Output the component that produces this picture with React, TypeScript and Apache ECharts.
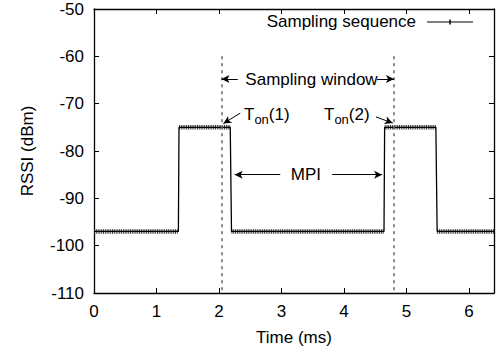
import React, { useEffect, useRef } from "react";
import * as echarts from "echarts";

// Step breakpoints of the sampled RSSI sequence (time in ms, RSSI in dBm)
const stepTimes = [0, 1.35, 1.36, 2.18, 2.2, 4.64, 4.65, 5.47, 5.49, 6.4];
const stepLevels = [-97, -97, -75, -75, -97, -97, -75, -75, -97, -97];
// Sampling window boundaries (ms) and their top (dBm)
const windowEdges = [2.04, 4.8];
const windowTop = -60;
const seriesName = "Sampling sequence";
const xName = "Time (ms)";
const yName = "RSSI (dBm)";

const FONT = "'Liberation Sans', Arial, Helvetica, sans-serif";

export default function App() {
  const ref = useRef<HTMLDivElement>(null);
  useEffect(() => {
    if (!ref.current) return;
    const chart = echarts.init(ref.current, undefined, { renderer: "svg" });
    const stepData = stepTimes.map((t, i) => [t, stepLevels[i]]);
    // plateaus (horizontal runs) for the dense sample-marker band
    const plateaus: number[][][] = [];
    for (let i = 0; i + 1 < stepTimes.length; i += 2) {
      plateaus.push([
        [stepTimes[i], stepLevels[i]],
        [stepTimes[i + 1], stepLevels[i + 1]],
      ]);
    }
    const txt = { color: "#000", fontSize: 17, fontFamily: FONT };
    const arrowLine = (a: number[], b: number[]) => [
      { coord: a, symbol: "none" },
      { coord: b, symbol: "arrow" },
    ];
    const labelPoint = (coord: number[], formatter: string, align = "center") => ({
      coord,
      symbol: "circle",
      symbolSize: 0,
      label: {
        show: true,
        position: "inside",
        formatter,
        align,
        verticalAlign: "middle",
        ...txt,
        rich: {
          t: { ...txt, lineHeight: 18 },
          s: { ...txt, fontSize: 13, lineHeight: 18, padding: [10, 0, 0, 0] },
        },
      },
    });
    const axisCommon = {
      axisLine: { show: true, onZero: false, lineStyle: { color: "#000", width: 1.3 } },
      axisTick: { show: true, inside: true, length: 5, lineStyle: { color: "#000", width: 1 } },
      splitLine: { show: false },
    };
    chart.setOption({
      animation: false,
      backgroundColor: "#fff",
      grid: { left: 94, right: 2, top: 9, bottom: 61, containLabel: false },
      xAxis: [
        {
          type: "value",
          min: 0,
          max: 6.4,
          interval: 1,
          position: "bottom",
          ...axisCommon,
          axisLabel: { ...txt, margin: 10, showMaxLabel: false },
          name: xName,
          nameLocation: "middle",
          nameGap: 36,
          nameTextStyle: { ...txt },
        },
        {
          type: "value",
          min: 0,
          max: 6.4,
          interval: 1,
          position: "top",
          ...axisCommon,
          axisLabel: { show: false },
        },
      ],
      yAxis: [
        {
          type: "value",
          min: -110,
          max: -50,
          interval: 10,
          position: "left",
          ...axisCommon,
          axisLabel: { ...txt, margin: 10 },
          name: yName,
          nameLocation: "middle",
          nameGap: 58,
          nameTextStyle: { ...txt },
        },
        {
          type: "value",
          min: -110,
          max: -50,
          interval: 10,
          position: "right",
          ...axisCommon,
          axisLabel: { show: false },
        },
      ],
      series: [
        ...plateaus.map((p) => ({
          type: "line",
          data: p,
          symbol: "none",
          silent: true,
          lineStyle: { color: "#333", width: 4.5, type: [1, 0.8] },
          z: 2,
        })),
        {
          name: seriesName,
          type: "line",
          data: stepData,
          symbol: "none",
          lineStyle: { color: "#000", width: 1.3 },
          z: 3,
          markLine: {
            silent: true,
            symbol: ["none", "none"],
            lineStyle: { color: "#666", width: 1.5, type: [3, 4] },
            label: { show: false },
            data: windowEdges.map((x) => [
              { coord: [x, windowTop] },
              { coord: [x, -110] },
            ]),
          },
        },
        {
          type: "line",
          data: [],
          silent: true,
          markLine: {
            silent: true,
            symbol: ["none", "arrow"],
            symbolSize: [6, 8],
            lineStyle: { color: "#000", width: 1, type: "solid" },
            label: { show: false },
            data: [
              arrowLine([2.3, -64.8], [windowEdges[0], -64.8]),
              arrowLine([4.53, -64.8], [windowEdges[1], -64.8]),
              arrowLine([2.98, -85], [2.25, -85]),
              arrowLine([3.81, -85], [4.61, -85]),
              arrowLine([2.34, -72.0], [2.07, -74.2]),
              arrowLine([4.51, -72.8], [4.78, -74.1]),
            ],
          },
          markPoint: {
            silent: true,
            data: [
              labelPoint([3.48, -64.8], "Sampling window"),
              labelPoint([3.39, -85], "MPI"),
              labelPoint([2.4, -72.3], "{t|T}{s|on}{t|(1)}", "left"),
              labelPoint([3.68, -72.3], "{t|T}{s|on}{t|(2)}", "left"),
            ],
          },
        },
      ],
      graphic: [
        {
          type: "text",
          right: 80,
          top: 13,
          style: { text: seriesName, fill: "#000", font: `17px ${FONT}` },
        },
        {
          type: "line",
          shape: { x1: 427, y1: 22, x2: 473, y2: 22 },
          style: { stroke: "#000", lineWidth: 1 },
        },
        {
          type: "line",
          shape: { x1: 450, y1: 19.5, x2: 450, y2: 24.5 },
          style: { stroke: "#000", lineWidth: 1.5 },
        },
      ],
    });
    return () => chart.dispose();
  }, []);
  return (
    <div
      ref={ref}
      style={{ position: "fixed", left: 0, top: 0, width: 496, height: 354 }}
    />
  );
}
